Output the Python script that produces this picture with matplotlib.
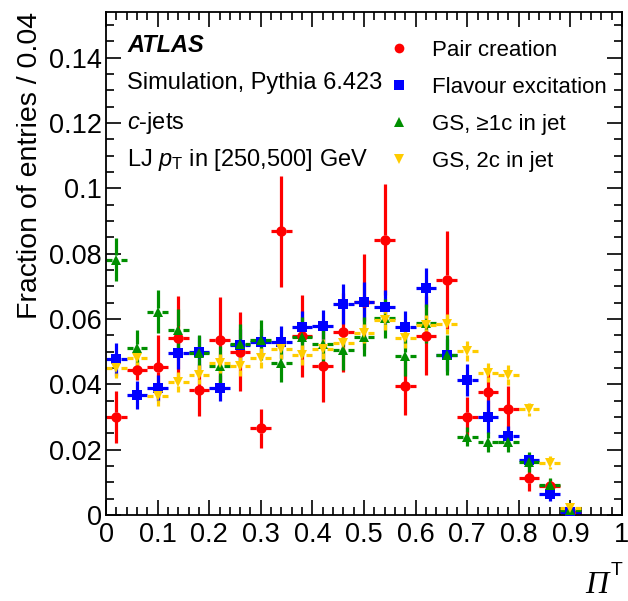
import numpy as np
import matplotlib.pyplot as plt
from matplotlib.ticker import MultipleLocator
from matplotlib.lines import Line2D

plt.rcParams['font.family'] = ['Liberation Sans', 'DejaVu Sans']
plt.rcParams['mathtext.fontset'] = 'custom'
plt.rcParams['mathtext.rm'] = 'Liberation Sans'
plt.rcParams['mathtext.it'] = 'Liberation Sans:italic'
plt.rcParams['mathtext.bf'] = 'Liberation Sans:bold'

# Bin centres (bin width 0.04)
bins = [0.02, 0.06, 0.10, 0.14, 0.18, 0.22, 0.26, 0.30, 0.34, 0.38, 0.42, 0.46,
        0.50, 0.54, 0.58, 0.62, 0.66, 0.70, 0.74, 0.78, 0.82, 0.86, 0.90]
half_width = 0.02

pair_val = [0.0301, 0.0444, 0.0452, 0.0541, 0.0383, 0.0536, 0.0500, 0.0265, 0.0869, 0.0549, 0.0456, 0.0559,
            0.0653, 0.0843, 0.0395, 0.0549, 0.0721, 0.0301, 0.0376, 0.0324, 0.0112, 0.0089, 0.0010]
pair_err = [0.0080, 0.0030, 0.0100, 0.0130, 0.0080, 0.0130, 0.0120, 0.0060, 0.0170, 0.0125, 0.0110, 0.0120,
            0.0145, 0.0170, 0.0090, 0.0120, 0.0150, 0.0060, 0.0060, 0.0070, 0.0040, 0.0020, 0.0010]

flav_val = [0.0477, 0.0367, 0.0388, 0.0497, 0.0498, 0.0390, 0.0520, 0.0530, 0.0530, 0.0576, 0.0578, 0.0646,
            0.0653, 0.0638, 0.0576, 0.0696, 0.0490, 0.0413, 0.0301, 0.0242, 0.0168, 0.0064, 0.0010]
flav_err = [0.0050, 0.0043, 0.0040, 0.0050, 0.0050, 0.0040, 0.0050, 0.0040, 0.0050, 0.0050, 0.0050, 0.0060,
            0.0060, 0.0050, 0.0050, 0.0060, 0.0050, 0.0050, 0.0050, 0.0030, 0.0020, 0.0020, 0.0010]

gs1_val = [0.0782, 0.0510, 0.0622, 0.0566, 0.0495, 0.0456, 0.0525, 0.0536, 0.0466, 0.0546, 0.0525, 0.0505,
           0.0546, 0.0602, 0.0487, 0.0587, 0.0490, 0.0240, 0.0224, 0.0224, 0.0163, 0.0092, 0.0015]
gs1_err = [0.0065, 0.0055, 0.0066, 0.0066, 0.0055, 0.0060, 0.0060, 0.0060, 0.0060, 0.0060, 0.0060, 0.0060,
           0.0060, 0.0060, 0.0060, 0.0060, 0.0060, 0.0030, 0.0030, 0.0030, 0.0030, 0.0020, 0.0010]

gs2_val = [0.0449, 0.0480, 0.0364, 0.0408, 0.0430, 0.0464, 0.0456, 0.0480, 0.0507, 0.0490, 0.0508, 0.0527,
           0.0556, 0.0597, 0.0541, 0.0582, 0.0584, 0.0503, 0.0436, 0.0429, 0.0324, 0.0160, 0.0020]
gs2_err = [0.0030, 0.0030, 0.0030, 0.0030, 0.0030, 0.0030, 0.0030, 0.0030, 0.0030, 0.0030, 0.0030, 0.0030,
           0.0030, 0.0030, 0.0030, 0.0030, 0.0030, 0.0030, 0.0030, 0.0030, 0.0020, 0.0020, 0.0010]

RED = '#ff0000'
BLUE = '#0000ff'
GREEN = '#008f00'
GOLD = '#ffcc00'

series = [
    ('Pair creation', pair_val, pair_err, RED, 'o'),
    ('Flavour excitation', flav_val, flav_err, BLUE, 's'),
    ('GS, \u22651c in jet', gs1_val, gs1_err, GREEN, '^'),
    ('GS, 2c in jet', gs2_val, gs2_err, GOLD, 'v'),
]

fig = plt.figure(figsize=(6.28, 6.01), dpi=100)
ax = fig.add_axes([0.1688, 0.1431, 0.8216, 0.8369])

# gap around the marker (ROOT style error bars)
gx = 0.0085
gy = 0.0013
for label, val, err, col, mk in series:
    x = np.array(bins)
    y = np.array(val)
    e = np.array(err)
    ax.hlines(y, x - half_width, x - gx, color=col, lw=2.3, zorder=2)
    ax.hlines(y, x + gx, x + half_width, color=col, lw=2.3, zorder=2)
    ax.vlines(x, y + gy, y + np.maximum(e, gy), color=col, lw=2.3, zorder=2)
    ax.vlines(x, y - np.maximum(e, gy), y - gy, color=col, lw=2.3, zorder=2)
    ax.plot(x, y, ls='none', marker=mk, color=col, ms=7.5 if mk in 'o^v' else 7, mew=0, zorder=3)

ax.set_xlim(0, 1)
ax.set_ylim(0, 0.154)
ax.xaxis.set_major_locator(MultipleLocator(0.1))
ax.xaxis.set_minor_locator(MultipleLocator(0.02))
ax.yaxis.set_major_locator(MultipleLocator(0.02))
ax.yaxis.set_minor_locator(MultipleLocator(0.005))
ax.xaxis.set_major_formatter(plt.FuncFormatter(lambda v, p: f'{v:g}'))
ax.yaxis.set_major_formatter(plt.FuncFormatter(lambda v, p: f'{v:g}'))
ax.tick_params(which='both', direction='in', top=True, right=True, width=1.2, labelsize=19.5)
ax.tick_params(which='major', length=11)
ax.tick_params(which='minor', length=5.5)
ax.tick_params(axis='y', pad=3)
ax.tick_params(axis='x', pad=5)
for s in ax.spines.values():
    s.set_linewidth(1.3)

ax.set_ylabel('Fraction of entries / 0.04', fontsize=20.5, loc='top', labelpad=4)

# x-axis title: italic serif Pi with upright sans superscript T
fig.text(0.969, 0.013, '\u03a0', family='Liberation Serif', style='italic', fontsize=23,
         ha='right', va='baseline')
fig.text(0.973, 0.044, 'T', fontsize=14, ha='left', va='baseline')

ax.text(0.041, 0.934, 'ATLAS', transform=ax.transAxes, fontsize=17, fontweight='bold',
        style='italic', va='center')
ax.text(0.041, 0.859, 'Simulation, Pythia 6.423', transform=ax.transAxes, fontsize=17, va='center')
ax.text(0.041, 0.779, r'$c$-jets', transform=ax.transAxes, fontsize=17, va='center')
ax.text(0.041, 0.705, r'LJ $p_{\mathrm{T}}$ in [250,500] GeV', transform=ax.transAxes,
        fontsize=17, va='center')

handles = [Line2D([], [], ls='none', marker=mk, color=col, ms=7 if mk != 's' else 6.5, mew=0)
           for label, val, err, col, mk in series]
labels = [s[0] for s in series]
ax.legend(handles, labels, loc='upper left', bbox_to_anchor=(0.53, 0.962), frameon=False,
          fontsize=16, handlelength=1.0, handletextpad=0.95, labelspacing=0.72, borderaxespad=0)

fig.savefig('out.png', dpi=100)
